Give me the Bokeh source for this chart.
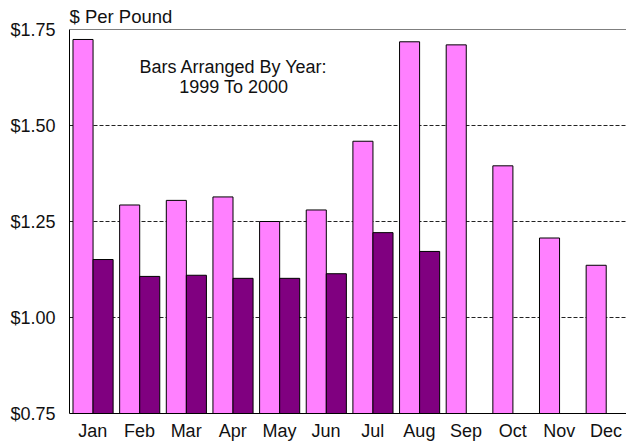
from bokeh.plotting import figure
from bokeh.models import Range1d, FixedTicker, NumeralTickFormatter, Label, Span
from bokeh.embed import file_html
from bokeh.resources import INLINE

months = ["Jan", "Feb", "Mar", "Apr", "May", "Jun", "Jul", "Aug", "Sep", "Oct", "Nov", "Dec"]
price_1999 = [1.724, 1.293, 1.305, 1.314, 1.250, 1.280, 1.459, 1.718, 1.710, 1.395, 1.207, 1.136]
price_2000 = [1.151, 1.107, 1.110, 1.102, 1.102, 1.114, 1.221, 1.172]
y_ticks = [0.75, 1.00, 1.25, 1.50, 1.75]

FONT = "Liberation Sans"
W, H = 626, 443

p = figure(width=W, height=H, output_backend="svg", toolbar_location=None,
           x_range=Range1d(0, 11.94), y_range=Range1d(0.75, 1.75),
           min_border_left=69, min_border_right=0, min_border_top=29, min_border_bottom=29)
p.outline_line_color = None
p.background_fill_color = "white"
p.border_fill_color = "white"

p.title.text = "$ Per Pound"
p.title.align = "left"
p.title.text_font = FONT
p.title.text_font_size = "18.5px"
p.title.text_font_style = "normal"
p.title.text_color = "#111111"
p.title.standoff = 6
p.title.offset = 0

x99 = [i + 0.29 for i in range(len(price_1999))]
x00 = [i + 0.72 for i in range(len(price_2000))]
p.vbar(x=x99, top=price_1999, bottom=0.75, width=0.43, fill_color="#FF80FF",
       line_color="black", line_width=1)
p.vbar(x=x00, top=price_2000, bottom=0.75, width=0.43, fill_color="#800080",
       line_color="black", line_width=1)

# axes
p.xaxis.ticker = FixedTicker(ticks=[i + 0.5 for i in range(12)])
p.xaxis.major_label_overrides = {i + 0.5: m for i, m in enumerate(months)}
p.yaxis.ticker = FixedTicker(ticks=y_ticks)
p.yaxis.formatter = NumeralTickFormatter(format="$0.00")
for ax in (p.xaxis[0], p.yaxis[0]):
    ax.major_tick_out = 0
    ax.major_tick_in = 0
    ax.minor_tick_out = 0
    ax.minor_tick_in = 0
    ax.axis_line_color = "black"
    ax.axis_line_width = 1
    ax.major_label_text_font = FONT
    ax.major_label_text_font_size = "18px"
    ax.major_label_text_color = "#111111"
p.xaxis.major_label_standoff = 7
p.yaxis.major_label_standoff = 14

p.xgrid.grid_line_color = None
p.ygrid.ticker = FixedTicker(ticks=y_ticks[1:-1])
p.ygrid.grid_line_color = "#222222"
p.ygrid.grid_line_dash = "4 2"
p.ygrid.grid_line_width = 1

p.add_layout(Span(location=1.75, dimension="width", line_color="black", line_width=1))

p.add_layout(Label(x=3.52, y=1.653, text="Bars Arranged By Year:", text_font=FONT,
                   text_font_size="18px", text_color="#111111", text_align="center",
                   text_baseline="alphabetic"))
p.add_layout(Label(x=3.52, y=1.601, text="1999 To 2000", text_font=FONT,
                   text_font_size="18px", text_color="#111111", text_align="center",
                   text_baseline="alphabetic"))

open("out.html", "w").write(file_html(p, INLINE))
